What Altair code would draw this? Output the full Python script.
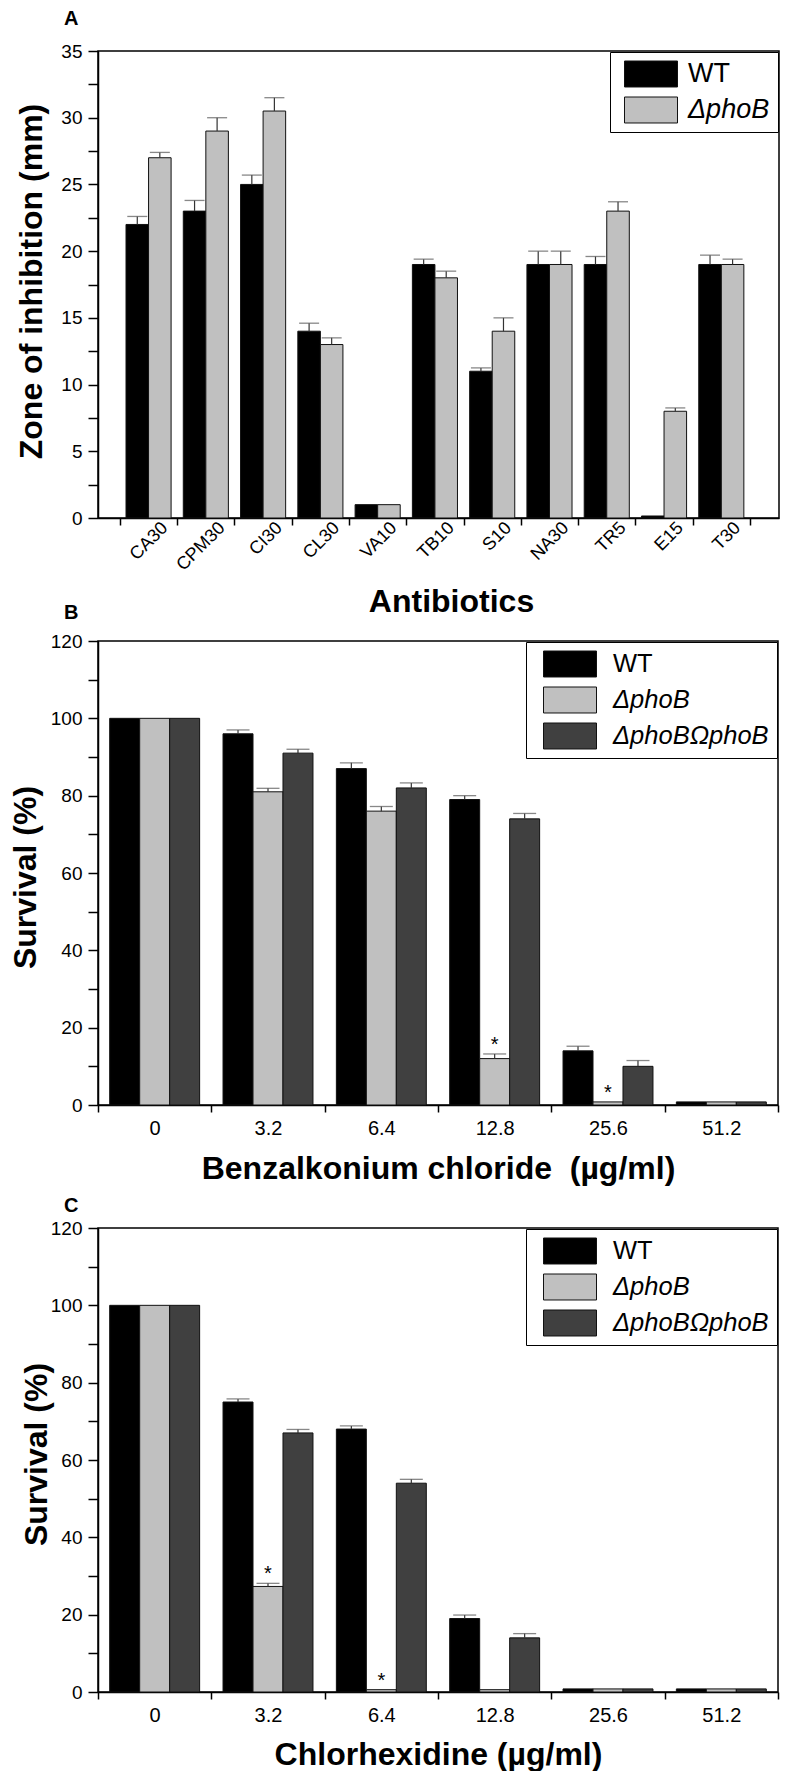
import altair as alt
import pandas as pd

# ---------------- Panel A data ----------------
antibiotics = ["CA30", "CPM30", "CI30", "CL30", "VA10", "TB10", "S10", "NA30", "TR5", "E15", "T30"]
a_wt = [22, 23, 25, 14, 1, 19, 11, 19, 19, 0.15, 19]
a_wt_err = [0.6, 0.8, 0.7, 0.6, 0, 0.4, 0.25, 1.0, 0.6, 0, 0.7]
a_pho = [27, 29, 30.5, 13, 1, 18, 14, 19, 23, 8, 19]
a_pho_err = [0.4, 1.0, 1.0, 0.5, 0, 0.5, 1.0, 1.0, 0.7, 0.25, 0.4]
a_star = ["", "", "", "", "", "", "", "", "", "", ""]

# ---------------- Panel B data ----------------
doses = ["0", "3.2", "6.4", "12.8", "25.6", "51.2"]
b_wt = [100, 96, 87, 79, 14, 0.8]
b_wt_err = [0, 1.0, 1.5, 1.0, 1.2, 0]
b_pho = [100, 81, 76, 12, 0.8, 0.8]
b_pho_err = [0, 0.9, 1.2, 1.2, 0, 0]
b_comp = [100, 91, 82, 74, 10, 0.8]
b_comp_err = [0, 1.0, 1.3, 1.4, 1.5, 0]
b_pho_star = ["", "", "", "*", "*", ""]

# ---------------- Panel C data ----------------
c_wt = [100, 75, 68, 19, 0.8, 0.8]
c_wt_err = [0, 0.8, 0.8, 0.9, 0, 0]
c_pho = [100, 27.3, 0.6, 0.6, 0.8, 0.8]
c_pho_err = [0, 0.8, 0, 0, 0, 0]
c_comp = [100, 67, 54, 14, 0.8, 0.8]
c_comp_err = [0, 0.9, 1.0, 1.1, 0, 0]
c_pho_star = ["", "*", "*", "", "", ""]

strains_A = ["WT", "\u0394phoB"]
strains_BC = ["WT", "\u0394phoB", "\u0394phoB\u03a9phoB"]
strain_colors = ["#000000", "#c0c0c0", "#404040"]

yticks_A = [0, 2.5, 5, 7.5, 10, 12.5, 15, 17.5, 20, 22.5, 25, 27.5, 30, 32.5, 35]
yticks_BC = [0, 10, 20, 30, 40, 50, 60, 70, 80, 90, 100, 110, 120]

FONT = "Liberation Sans"
RECT = "M-1,-0.49L1,-0.49L1,0.49L-1,0.49Z"


def long_df(cats, names, values, errs, stars):
    rows = []
    for name, vals, es, sts in zip(names, values, errs, stars):
        for c, v, e, s in zip(cats, vals, es, sts):
            rows.append({"cat": c, "strain": name, "value": v, "err": e,
                         "hi": v + e, "star": s})
    return pd.DataFrame(rows)


def panel(df, cats, strains, colors, *, width, height, ymax, yticks, ylab_every,
          ytitle, xtitle, ytitle_x, ytitle_y, xtitle_x, xtitle_y, letter,
          letter_offset, x_scale, xoff_pad, x_axis_extra, cap, legend_font,
          legend_sym_off, legend_label_off):
    x_enc = alt.X("cat:N", sort=cats, scale=x_scale,
                  axis=alt.Axis(title=xtitle, tickBand="extent", grid=False,
                                titleFontSize=32, titleFontWeight="bold",
                                titleColor="black", titleX=xtitle_x, titleY=xtitle_y,
                                titleBaseline="alphabetic", titleAlign="center",
                                domainColor="black", domainWidth=1.5,
                                tickColor="black", tickWidth=1.5, tickSize=7,
                                labelColor="black", **x_axis_extra))
    xo_enc = alt.XOffset("strain:N", sort=strains,
                         scale=alt.Scale(paddingInner=0, paddingOuter=xoff_pad))
    y_axis = alt.Axis(title=ytitle, values=yticks,
                      labelExpr=f"datum.value % {ylab_every} === 0 ? datum.label : ''",
                      grid=False, tickSize=10, tickColor="black", tickWidth=1.5,
                      domainColor="black", domainWidth=1.5, labelFontSize=19,
                      labelColor="black", labelPadding=6,
                      titleFontSize=32, titleFontWeight="bold", titleColor="black",
                      titleX=ytitle_x, titleY=ytitle_y, titleBaseline="alphabetic",
                      titleAngle=270)
    y_scale = alt.Scale(domain=[0, ymax], nice=False, zero=True)

    base = alt.Chart(df)
    bars = base.mark_bar(stroke="#111111", strokeWidth=1).encode(
        x=x_enc, xOffset=xo_enc,
        y=alt.Y("value:Q", scale=y_scale, axis=y_axis),
        color=alt.Color(
            "strain:N", sort=strains,
            scale=alt.Scale(domain=strains, range=colors),
            legend=alt.Legend(
                title=None, orient="top-right", offset=1,
                symbolType=RECT, symbolSize=53 * 53, clipHeight=28,
                rowPadding=8, padding=8, symbolOffset=legend_sym_off,
                labelOffset=legend_label_off, labelFontSize=legend_font,
                labelLimit=500, labelColor="black", labelFont=FONT,
                strokeColor="black", fillColor="white",
                symbolStrokeColor="#111111", symbolStrokeWidth=1,
                symbolOpacity=1,
                labelFontStyle={"expr": "datum.label === 'WT' ? 'normal' : 'italic'"},
            ),
        ),
    )
    errdf = base.transform_filter("datum.err > 0")
    rules = errdf.mark_rule(color="#333333", strokeWidth=1.2).encode(
        x=x_enc, xOffset=xo_enc,
        y=alt.Y("value:Q", scale=y_scale, axis=y_axis), y2="hi:Q")
    caps = errdf.mark_tick(color="#555555", thickness=1.3, size=cap).encode(
        x=x_enc, xOffset=xo_enc,
        y=alt.Y("hi:Q", scale=y_scale, axis=y_axis))
    stars = base.transform_filter("datum.star != ''").mark_text(
        fontSize=20, dy=-9, baseline="middle", color="black", font=FONT).encode(
        x=x_enc, xOffset=xo_enc,
        y=alt.Y("hi:Q", scale=y_scale, axis=y_axis), text="star:N")

    return alt.layer(bars, rules, caps, stars).properties(
        width=width, height=height,
        title=alt.TitleParams(text=letter, anchor="start", frame="group",
                              fontSize=20, fontWeight="bold", color="black",
                              dx=-34, offset=letter_offset, baseline="alphabetic",
                              font=FONT),
    )


df_a = long_df(antibiotics, strains_A, [a_wt, a_pho], [a_wt_err, a_pho_err],
               [a_star, a_star])
df_b = long_df(doses, strains_BC, [b_wt, b_pho, b_comp],
               [b_wt_err, b_pho_err, b_comp_err],
               [["" for _ in doses], b_pho_star, ["" for _ in doses]])
df_c = long_df(doses, strains_BC, [c_wt, c_pho, c_comp],
               [c_wt_err, c_pho_err, c_comp_err],
               [["" for _ in doses], c_pho_star, ["" for _ in doses]])

chart_a = panel(
    df_a, antibiotics, strains_A, strain_colors[:2], width=681, height=467,
    ymax=35, yticks=yticks_A, ylab_every=5, ytitle="Zone of inhibition (mm)",
    xtitle="Antibiotics", ytitle_x=-57, ytitle_y=230, xtitle_x=353, xtitle_y=93,
    letter="A", letter_offset=-3,
    x_scale=alt.Scale(paddingInner=0, paddingOuter=0.445, align=0.43),
    xoff_pad=0.27,
    x_axis_extra=dict(labelAngle=-45, labelAlign="right", labelBaseline="middle",
                      labelFontSize=18, labelOffset=16, labelPadding=0),
    cap=20, legend_font=27, legend_sym_off=6, legend_label_off=10)

chart_b = panel(
    df_b, doses, strains_BC, strain_colors, width=680, height=464,
    ymax=120, yticks=yticks_BC, ylab_every=20, ytitle="Survival (%)",
    xtitle="Benzalkonium chloride\u00a0 (\u00b5g/ml)", ytitle_x=-63, ytitle_y=236,
    xtitle_x=340, xtitle_y=73, letter="B", letter_offset=-7,
    x_scale=alt.Scale(paddingInner=0, paddingOuter=0),
    xoff_pad=0.39,
    x_axis_extra=dict(labelAngle=0, labelFontSize=20, labelPadding=6),
    cap=23, legend_font=25.5, legend_sym_off=9, legend_label_off=16)

chart_c = panel(
    df_c, doses, strains_BC, strain_colors, width=680, height=464,
    ymax=120, yticks=yticks_BC, ylab_every=20, ytitle="Survival (%)",
    xtitle="Chlorhexidine (\u00b5g/ml)", ytitle_x=-52, ytitle_y=226,
    xtitle_x=340, xtitle_y=72, letter="C", letter_offset=-13,
    x_scale=alt.Scale(paddingInner=0, paddingOuter=0),
    xoff_pad=0.39,
    x_axis_extra=dict(labelAngle=0, labelFontSize=20, labelPadding=6),
    cap=23, legend_font=25.5, legend_sym_off=9, legend_label_off=16)

chart = alt.vconcat(chart_a, chart_b, chart_c, spacing=123, bounds="flush").resolve_scale(
    color="independent", x="independent", y="independent", xOffset="independent"
).resolve_legend(color="independent").properties(
    padding={"left": 0, "top": 0, "right": 0, "bottom": 0},
    background="white",
).configure(font=FONT).configure_view(stroke="black", strokeWidth=1.5)

chart.save("out.html", embed_options={"renderer": "svg", "actions": False})
